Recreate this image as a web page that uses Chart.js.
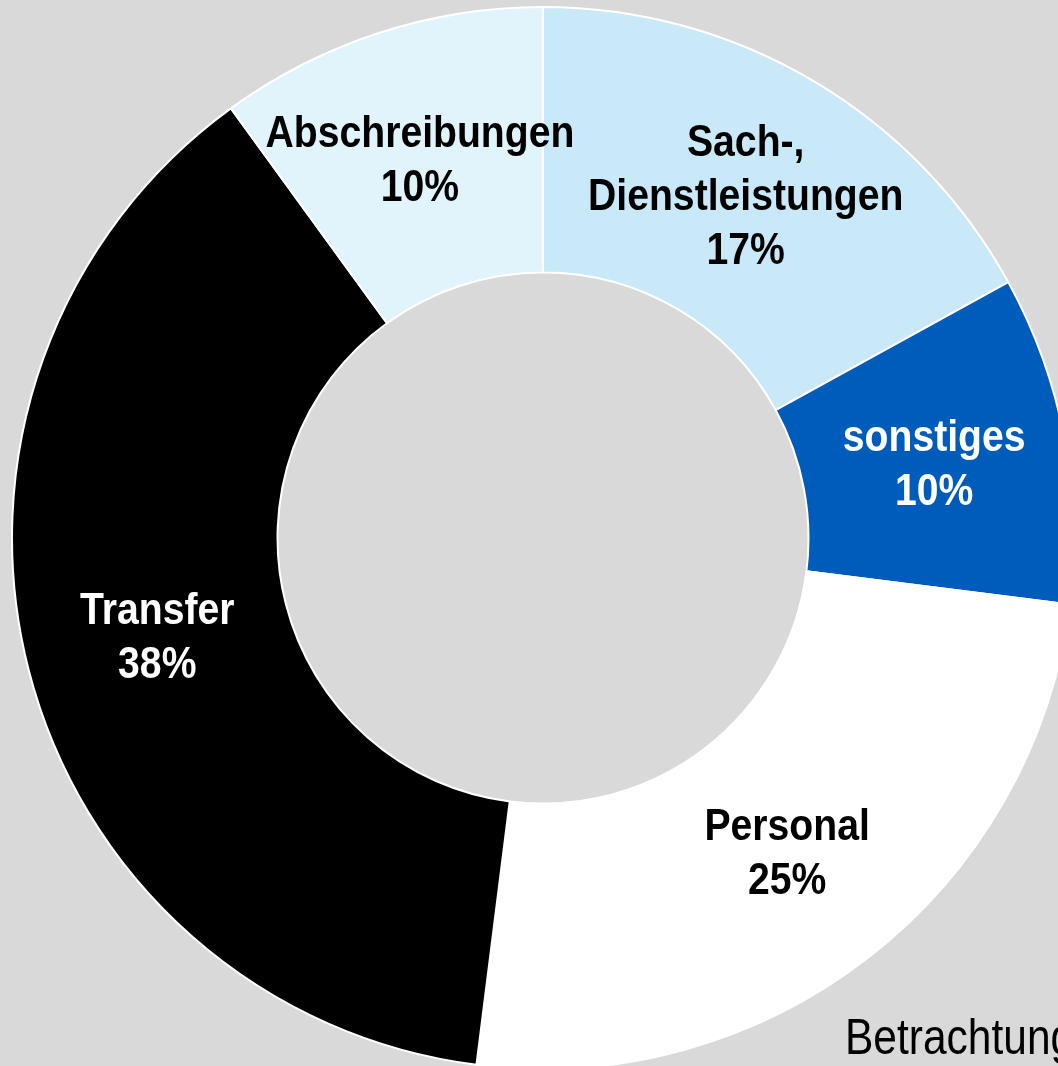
<!DOCTYPE html>
<html>
<head>
<meta charset="utf-8">
<script src="https://cdn.jsdelivr.net/npm/chart.js@4/dist/chart.umd.min.js"></script>
<style>
  html, body { margin: 0; padding: 0; width: 1058px; height: 1066px; overflow: hidden; background: #D9D9D9; }
  #wrap { position: absolute; left: 11px; top: 6px; width: 1064px; height: 1064px; }
  #note { position: absolute; left: 845px; top: 1012px; font-family: "Liberation Sans", Arial, sans-serif; font-size: 50px; line-height: 50px; color: #000; white-space: nowrap; transform: scaleX(0.85); transform-origin: 0 0; }
</style>
</head>
<body>
<div id="wrap"><canvas id="c" width="1064" height="1064"></canvas></div>
<div id="note">Betrachtung</div>
<script>
const categories = [["Sach-,", "Dienstleistungen"], ["sonstiges"], ["Personal"], ["Transfer"], ["Abschreibungen"]];
const values = [17, 10, 25, 38, 10];
const colors = ["#C9E9F9", "#005CBA", "#FFFFFF", "#000000", "#E1F3FB"];
const labelColors = ["#000000", "#FFFFFF", "#000000", "#FFFFFF", "#000000"];

const labelPlugin = {
  id: 'sliceLabels',
  afterDatasetsDraw(chart) {
    const ctx = chart.ctx;
    const meta = chart.getDatasetMeta(0);
    const total = values.reduce((a, b) => a + b, 0);
    ctx.save();
    ctx.font = 'bold 45px "Liberation Sans", Arial, sans-serif';
    ctx.textAlign = 'center';
    ctx.textBaseline = 'middle';
    meta.data.forEach((arc, i) => {
      const p = arc.tooltipPosition();
      const lines = categories[i].concat([Math.round(values[i] / total * 100) + '%']);
      const lh = 54;
      const startY = p.y + 2 - (lines.length - 1) * lh / 2;
      ctx.fillStyle = labelColors[i];
      lines.forEach((t, k) => {
        ctx.save();
        ctx.translate(p.x, startY + k * lh);
        ctx.scale(0.87, 1);
        ctx.fillText(t, 0, 0);
        ctx.restore();
      });
    });
    ctx.restore();
  }
};

new Chart(document.getElementById('c'), {
  type: 'doughnut',
  data: {
    labels: categories.map(c => c.join(' ')),
    datasets: [{
      data: values,
      backgroundColor: colors,
      borderColor: '#FFFFFF',
      borderWidth: 2
    }]
  },
  options: {
    responsive: false,
    animation: false,
    cutout: '50%',
    rotation: 0,
    layout: { padding: 0 },
    plugins: { legend: { display: false }, tooltip: { enabled: false } }
  },
  plugins: [labelPlugin]
});
</script>
</body>
</html>
